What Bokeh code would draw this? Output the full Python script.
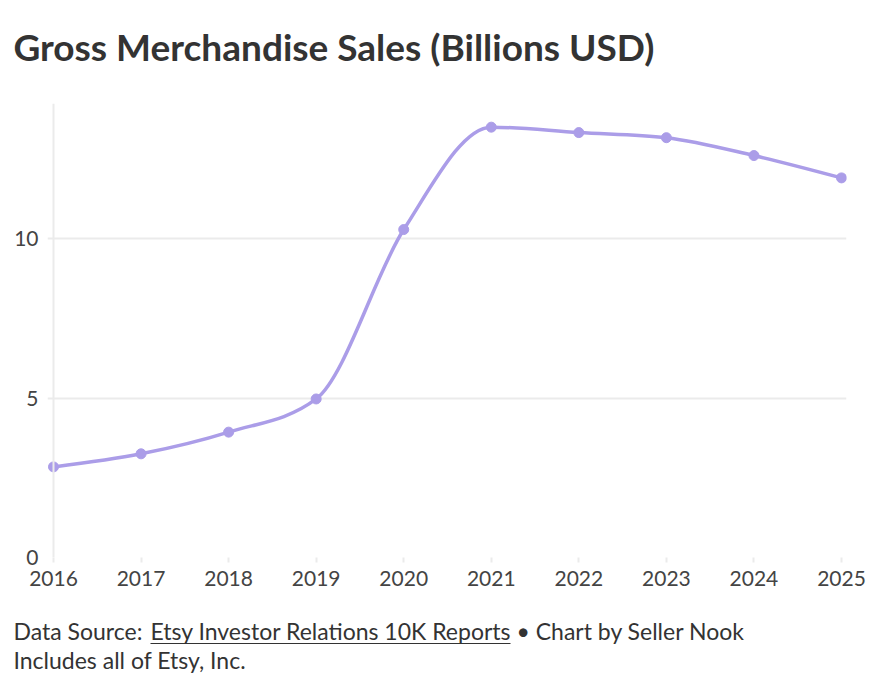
from bokeh.plotting import figure
from bokeh.models import Span, FixedTicker, Range1d
from bokeh.layouts import column
from bokeh.embed import file_html
from bokeh.resources import INLINE
from bokeh.core.properties import value

years = [2016, 2017, 2018, 2019, 2020, 2021, 2022, 2023, 2024, 2025]
gms = [2.84, 3.25, 3.93, 4.97, 10.28, 13.49, 13.32, 13.16, 12.60, 11.90]
y_ticks = [0, 5, 10]

title_text = "Gross Merchandise Sales (Billions USD)"
src_prefix = "Data Source: "
src_link = "Etsy Investor Relations 10K Reports"
src_suffix = "• Chart by Seller Nook"
note_text = "Includes all of Etsy, Inc."

FONT = "Lato"
LINE = "#ab9de8"
TXT = "#333333"
GRID = "#ebebeb"
W = 887


def sign(v):
    return (v > 0) - (v < 0)


# monotone-X cubic (same rule as d3.curveMonotoneX) as bezier segments
def monotone_tangents(xs, ys):
    n = len(xs)
    t = [0.0] * n
    for i in range(1, n - 1):
        h0 = xs[i] - xs[i - 1]
        h1 = xs[i + 1] - xs[i]
        s0 = (ys[i] - ys[i - 1]) / h0
        s1 = (ys[i + 1] - ys[i]) / h1
        pp = (s0 * h1 + s1 * h0) / (h0 + h1)
        t[i] = (sign(s0) + sign(s1)) * min(abs(s0), abs(s1), 0.5 * abs(pp))
    h = xs[1] - xs[0]
    t[0] = (3 * (ys[1] - ys[0]) / h - t[1]) / 2
    h = xs[-1] - xs[-2]
    t[-1] = (3 * (ys[-1] - ys[-2]) / h - t[-2]) / 2
    return t


tan = monotone_tangents(years, gms)
x0, y0, x1, y1, cx0, cy0, cx1, cy1 = [], [], [], [], [], [], [], []
for i in range(len(years) - 1):
    dx = (years[i + 1] - years[i]) / 3
    x0.append(years[i]); y0.append(gms[i])
    x1.append(years[i + 1]); y1.append(gms[i + 1])
    cx0.append(years[i] + dx); cy0.append(gms[i] + dx * tan[i])
    cx1.append(years[i + 1] - dx); cy1.append(gms[i + 1] - dx * tan[i + 1])


def text_fig(h):
    f = figure(width=W, height=h, output_backend="svg", toolbar_location=None,
               x_axis_location=None, y_axis_location=None, title=None,
               x_range=Range1d(0, W), y_range=Range1d(h, 0),
               min_border=0, min_border_left=0, min_border_right=0,
               min_border_top=0, min_border_bottom=0)
    f.grid.visible = False
    f.outline_line_color = None
    return f


def put(f, text, x, y, size, bold=False):
    f.text(x=[x], y=[y], text=[text], text_font=value(FONT), text_font_size=size,
           text_font_style="bold" if bold else "normal", text_color=TXT,
           text_baseline="alphabetic", text_align="left")


# header (canvas rows 0..90)
HEAD_H = 90
head = text_fig(HEAD_H)
put(head, title_text, 13, 46, "37px", bold=True)

# main chart (canvas rows 90..600); frame from y=103 to y=557
MAIN_TOP, MAIN_H = HEAD_H, 510
px_per_year = 788 / 9
y_top = 454 / 31.9

p = figure(width=W, height=MAIN_H, output_backend="svg", toolbar_location=None,
           x_range=Range1d(2016 - 6 / px_per_year, 2025 + 5 / px_per_year),
           y_range=Range1d(0, y_top),
           min_border_left=47, min_border_right=41,
           min_border_top=103 - MAIN_TOP,
           min_border_bottom=MAIN_TOP + MAIN_H - 557)
p.outline_line_color = None

p.xgrid.grid_line_color = None
p.ygrid.grid_line_color = GRID
p.ygrid.grid_line_width = 2
p.ygrid.ticker = FixedTicker(ticks=y_ticks)

p.xaxis.ticker = FixedTicker(ticks=years)
p.xaxis.axis_line_color = None
p.xaxis.major_tick_line_color = GRID
p.xaxis.major_tick_line_width = 2
p.xaxis.major_tick_out = 5
p.xaxis.major_tick_in = 0
p.xaxis.minor_tick_line_color = None
p.xaxis.major_label_standoff = 8
p.xaxis.major_label_text_font = FONT
p.xaxis.major_label_text_font_size = "21px"
p.xaxis.major_label_text_color = "#444444"

p.yaxis.ticker = FixedTicker(ticks=y_ticks)
p.yaxis.axis_line_color = None
p.yaxis.major_tick_line_color = None
p.yaxis.minor_tick_line_color = None
p.yaxis.major_label_standoff = 3
p.yaxis.major_label_text_font = FONT
p.yaxis.major_label_text_font_size = "21px"
p.yaxis.major_label_text_color = "#444444"

p.add_layout(Span(location=2016, dimension="height", line_color=GRID, line_width=2))

p.bezier(x0=x0, y0=y0, x1=x1, y1=y1, cx0=cx0, cy0=cy0, cx1=cx1, cy1=cy1,
         line_color=LINE, line_width=3.5)
p.scatter(years, gms, size=10, fill_color=LINE, line_color=LINE)

# footer (canvas rows 600..681)
FOOT_TOP, FOOT_H = MAIN_TOP + MAIN_H, 81
foot = text_fig(FOOT_H)
put(foot, src_prefix, 13, 630 - FOOT_TOP, "23px")
put(foot, src_link, 150, 630 - FOOT_TOP, "23px")
put(foot, src_suffix, 516, 630 - FOOT_TOP, "23px")
put(foot, note_text, 13, 659 - FOOT_TOP, "23px")
foot.segment(x0=[150], y0=[643 - FOOT_TOP], x1=[510], y1=[643 - FOOT_TOP],
             line_color=TXT, line_width=1.2)

layout = column(column(head), p, column(foot), spacing=0)
open("out.html", "w").write(file_html(layout, INLINE))
